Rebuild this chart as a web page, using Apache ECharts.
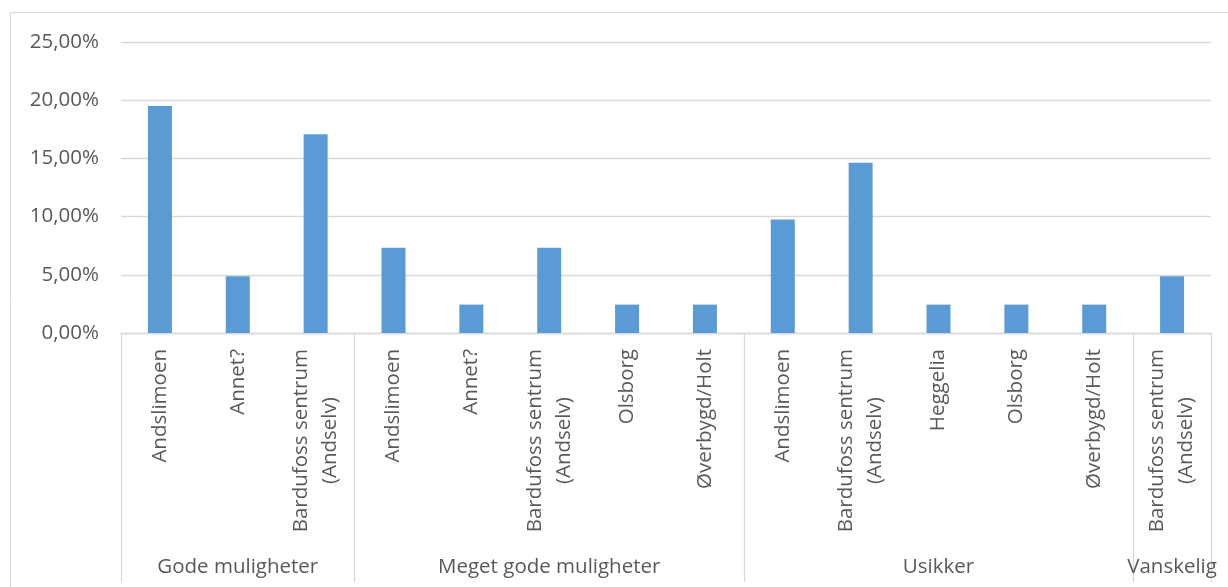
<!DOCTYPE html>
<html>
<head>
<meta charset="utf-8">
<script src="https://cdn.jsdelivr.net/npm/echarts@6/dist/echarts.min.js"></script>
<style>
  html, body { margin: 0; padding: 0; background: #fff; }
  #chart { width: 1228px; height: 587px; }
</style>
</head>
<body>
<div id="chart"></div>
<script>
// groups, in order, with their place names
var groupNames = ['Gode muligheter', 'Meget gode muligheter', 'Usikker', 'Vanskelig'];
var groupSizes = [3, 5, 5, 1];
var places = [
    'Andslimoen', 'Annet?', 'Bardufoss sentrum\n(Andselv)',
    'Andslimoen', 'Annet?', 'Bardufoss sentrum\n(Andselv)', 'Olsborg', 'Øverbygd/Holt',
    'Andslimoen', 'Bardufoss sentrum\n(Andselv)', 'Heggelia', 'Olsborg', 'Øverbygd/Holt',
    'Bardufoss sentrum\n(Andselv)'
];
// share in percent
var shares = [
    19.51, 4.88, 17.07,
    7.32, 2.44, 7.32, 2.44, 2.44,
    9.76, 14.63, 2.44, 2.44, 2.44,
    4.88
];
var yTicks = [0, 5, 10, 15, 20, 25];

var textColor = '#595959';
var lineColor = '#d9d9d9';
var font = 'Open Sans';
var fontSize = 20.5;

// group boundaries (index of first category in each group) and labels at group middle
var boundaries = [];
var groupLabels = [];
var start = 0;
groupSizes.forEach(function (n, g) {
    boundaries.push(start);
    for (var i = 0; i < n; i++) {
        groupLabels.push(i === Math.floor(n / 2) ? groupNames[g] : '');
    }
    start += n;
});

var chart = echarts.init(document.getElementById('chart'));

chart.setOption({
    animation: false,
    graphic: [{
        type: 'rect',
        shape: { x: 10.5, y: 12.5, width: 1300, height: 700 },
        style: { fill: 'none', stroke: lineColor, lineWidth: 1 },
        silent: true
    }],
    grid: { left: 121, right: 17, top: 42, bottom: 254 },
    xAxis: [
        {
            type: 'category',
            data: places,
            axisLine: { lineStyle: { color: lineColor, width: 1.3 } },
            axisTick: {
                show: true,
                length: 249,
                interval: function (index) { return boundaries.indexOf(index) >= 0; },
                lineStyle: { color: lineColor, width: 1.3 }
            },
            axisLabel: {
                interval: 0,
                rotate: 90,
                margin: 16,
                formatter: function (v) {
                    return v.split('\n').map(function (s) { return '{c|' + s + '}'; }).join('\n');
                },
                rich: {
                    c: { align: 'center', fontFamily: font, fontSize: fontSize, color: textColor, lineHeight: 29 }
                }
            }
        },
        {
            type: 'category',
            position: 'bottom',
            data: groupLabels,
            axisLine: { show: false },
            axisTick: { show: false },
            axisLabel: {
                interval: 0,
                margin: 222,
                fontFamily: font,
                fontSize: fontSize,
                lineHeight: 24,
                color: textColor
            }
        }
    ],
    yAxis: {
        type: 'value',
        min: yTicks[0],
        max: yTicks[yTicks.length - 1],
        interval: yTicks[1] - yTicks[0],
        axisLine: { show: false },
        axisTick: { show: false },
        splitLine: { lineStyle: { color: lineColor, width: 1.3 } },
        axisLabel: {
            margin: 22,
            fontFamily: font,
            fontSize: fontSize,
            color: textColor,
            formatter: function (v) { return v.toFixed(2).replace('.', ',') + '%'; }
        }
    },
    series: [{
        type: 'bar',
        data: shares,
        barWidth: 24,
        itemStyle: { color: '#5b9bd5' }
    }]
});
</script>
</body>
</html>
